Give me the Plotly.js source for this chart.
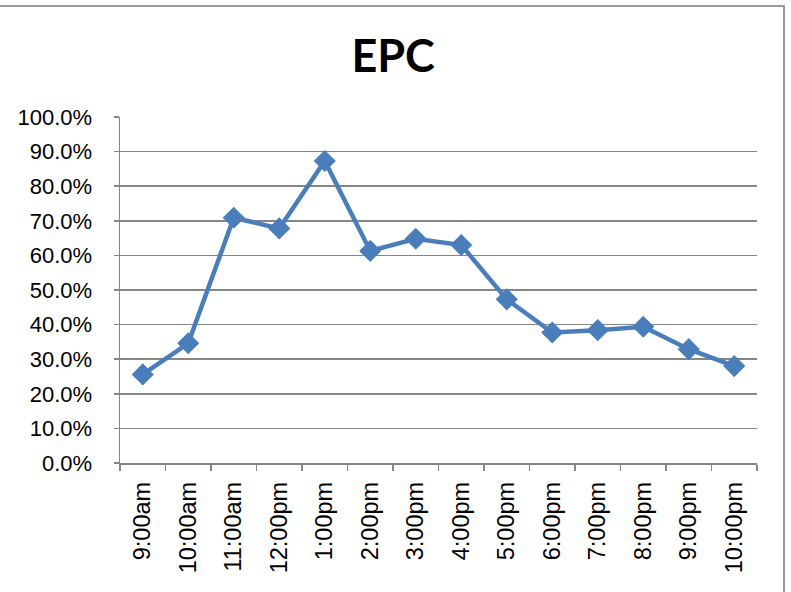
<!DOCTYPE html>
<html>
<head>
<meta charset="utf-8">
<script src="https://cdn.plot.ly/plotly-3.0.1.min.js"></script>
<style>
  html, body { margin: 0; padding: 0; background: #fff; }
  #wrap { position: relative; width: 791px; height: 592px; }
  #chart { position: absolute; left: 0; top: 0; width: 791px; height: 592px; }
  #frame { position: absolute; left: -2px; top: 5px; width: 785px; height: 600px;
           border-top: 2px solid #9a9a9a; border-right: 2px solid #9a9a9a; pointer-events: none; }
</style>
</head>
<body>
<div id="wrap">
  <div id="chart"></div>
  <div id="frame"></div>
</div>
<script>
const chartTitle = "EPC";
const hours = ["9:00am","10:00am","11:00am","12:00pm","1:00pm","2:00pm","3:00pm",
               "4:00pm","5:00pm","6:00pm","7:00pm","8:00pm","9:00pm","10:00pm"];
const epc = [0.256, 0.346, 0.709, 0.678, 0.873, 0.613, 0.648,
             0.630, 0.473, 0.377, 0.384, 0.394, 0.329, 0.280];
const yTicks = [0,0.1,0.2,0.3,0.4,0.5,0.6,0.7,0.8,0.9,1.0];

const trace = {
  x: hours, y: epc, type: "scatter", mode: "lines+markers",
  line: { color: "#4A7EBB", width: 4.5 },
  marker: { symbol: "diamond", size: 17, color: "#4A7EBB" },
  cliponaxis: false, hoverinfo: "skip"
};

const layout = {
  width: 791, height: 592,
  margin: { l: 120, r: 34, t: 117, b: 128.5, pad: 0 },
  paper_bgcolor: "#ffffff", plot_bgcolor: "#ffffff",
  showlegend: false,
  title: { text: chartTitle, x: 0.497, xref: "container", xanchor: "center",
           y: 0.905, yref: "container", yanchor: "middle",
           font: { family: "Lato", size: 45, color: "#000", weight: "bold" } },
  xaxis: {
    type: "category", range: [-0.5, 13.5], tickson: "boundaries",
    showgrid: false, showline: true, linecolor: "#868686", linewidth: 1.5,
    ticks: "outside", ticklen: 6, tickwidth: 1.5, tickcolor: "#868686",
    tickangle: -90, tickfont: { family: "Liberation Sans", size: 23.5, color: "#000" },
    ticklabelstandoff: 8,
    zeroline: false, fixedrange: true
  },
  yaxis: {
    range: [0, 1], tickvals: yTicks, tickformat: ".1%",
    showgrid: true, gridcolor: "#868686", gridwidth: 1.5,
    showline: true, linecolor: "#868686", linewidth: 1.5,
    ticks: "outside", ticklen: 5, tickwidth: 1.5, tickcolor: "#868686",
    tickfont: { family: "Liberation Sans", size: 22, color: "#000" },
    zeroline: false, fixedrange: true, ticklabelstandoff: 17
  }
};

Plotly.newPlot("chart", [trace], layout, { staticPlot: true, displayModeBar: false });
</script>
</body>
</html>
